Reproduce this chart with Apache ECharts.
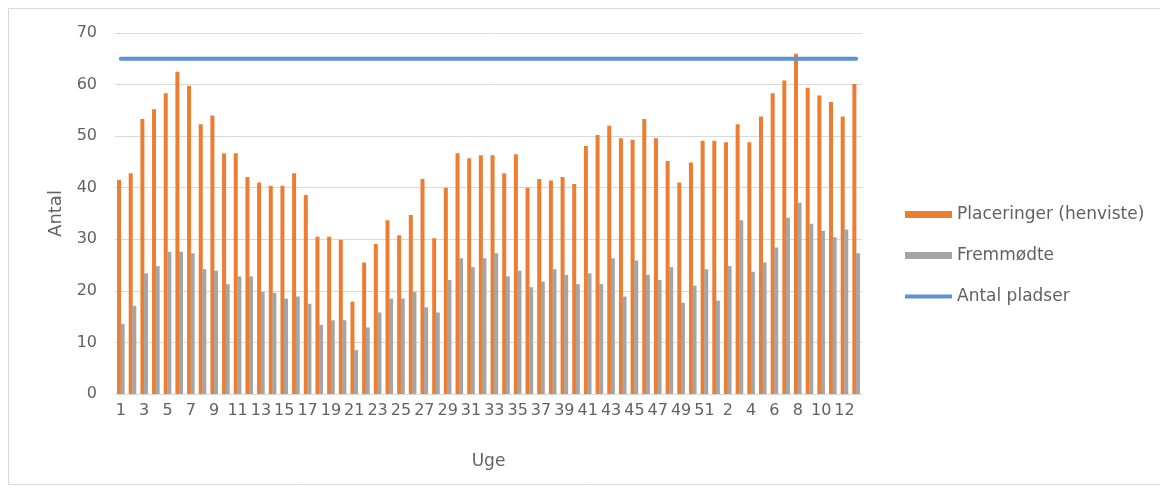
<!DOCTYPE html>
<html>
<head>
<meta charset="utf-8">
<script src="https://cdn.jsdelivr.net/npm/echarts@6/dist/echarts.min.js"></script>
<style>html,body{margin:0;padding:0;background:#fff;}#c{width:1160px;height:497px;}</style>
</head>
<body>
<div id="c"></div>
<script>
// Weeks: 1..52, then 2..13 of the following year
const weeks = ['1','2','3','4','5','6','7','8','9','10','11','12','13','14','15','16','17','18','19','20','21','22','23','24','25','26','27','28','29','30','31','32','33','34','35','36','37','38','39','40','41','42','43','44','45','46','47','48','49','50','51','52','2','3','4','5','6','7','8','9','10','11','12','13'];
const placeringer = [41.5,42.8,53.3,55.2,58.3,62.5,59.7,52.3,54.0,46.7,46.7,42.1,41.0,40.4,40.4,42.8,38.6,30.5,30.5,29.9,17.9,25.5,29.1,33.7,30.8,34.7,41.7,30.2,40.0,46.7,45.7,46.3,46.3,42.8,46.5,40.0,41.7,41.4,42.1,40.7,48.1,50.2,52.0,49.6,49.3,53.3,49.6,45.2,41.0,44.9,49.1,49.1,48.8,52.3,48.8,53.8,58.3,60.8,66.0,59.4,57.9,56.6,53.8,60.1];
const fremmoedte = [13.6,17.1,23.4,24.8,27.6,27.6,27.3,24.2,23.9,21.3,22.8,22.8,19.8,19.6,18.5,18.9,17.5,13.4,14.3,14.3,8.5,12.9,15.8,18.5,18.5,19.8,16.8,15.8,22.1,26.3,24.6,26.3,27.3,22.8,23.9,20.7,21.8,24.2,23.1,21.3,23.4,21.3,26.3,18.9,25.9,23.1,22.1,24.6,17.7,21.0,24.2,18.1,24.8,33.7,23.7,25.5,28.4,34.2,37.1,33.0,31.6,30.4,31.9,27.3];
const antalPladser = weeks.map(() => 65);
const yTicks = {min: 0, max: 70, interval: 10};

const chart = echarts.init(document.getElementById('c'), null, {renderer: 'canvas'});
const txt = '#626262';
const font = 'DejaVu Sans';
chart.setOption({
  animation: false,
  backgroundColor: '#fff',
  textStyle: {fontFamily: font},
  graphic: [{type: 'rect', shape: {x: 8.5, y: 8.5, width: 1160, height: 476}, style: {fill: 'none', stroke: '#d9d9d9', lineWidth: 1}, silent: true}],
  grid: {left: 115, right: 298, top: 33, bottom: 103},
  legend: {
    orient: 'vertical', left: 900, top: 201, itemWidth: 47, itemHeight: 7, itemGap: 24,
    textStyle: {color: txt, fontSize: 17, fontFamily: font},
    data: [{name: 'Placeringer (henviste)', icon: 'rect'}, {name: 'Fremmødte', icon: 'rect'}, {name: 'Antal pladser', icon: 'path://M0,0h47v4h-47z'}]
  },
  xAxis: {
    type: 'category', data: weeks, boundaryGap: true,
    name: 'Uge', nameLocation: 'middle', nameGap: 59,
    nameTextStyle: {color: txt, fontSize: 17, fontFamily: font},
    axisLine: {lineStyle: {color: '#d9d9d9'}}, axisTick: {show: false},
    axisLabel: {interval: 1, color: txt, fontSize: 16, margin: 9, fontFamily: font}
  },
  yAxis: {
    type: 'value', min: yTicks.min, max: yTicks.max, interval: yTicks.interval,
    name: 'Antal', nameLocation: 'middle', nameGap: 49, nameRotate: 90,
    nameTextStyle: {color: txt, fontSize: 18, fontFamily: font},
    axisLine: {show: false}, axisTick: {show: false},
    axisLabel: {color: txt, fontSize: 16, margin: 18, fontFamily: font},
    splitLine: {lineStyle: {color: '#d9d9d9'}}
  },
  series: [
    {name: 'Placeringer (henviste)', type: 'bar', data: placeringer, barWidth: 4, barGap: '-10%', itemStyle: {color: '#ED7D31'}},
    {name: 'Fremmødte', type: 'bar', data: fremmoedte, barWidth: 4, itemStyle: {color: '#A5A5A5'}},
    {name: 'Antal pladser', type: 'line', data: antalPladser, symbol: 'none', lineStyle: {color: '#5B93D3', width: 4, cap: 'round'}, itemStyle: {color: '#5B93D3'}}
  ]
});
</script>
</body>
</html>
